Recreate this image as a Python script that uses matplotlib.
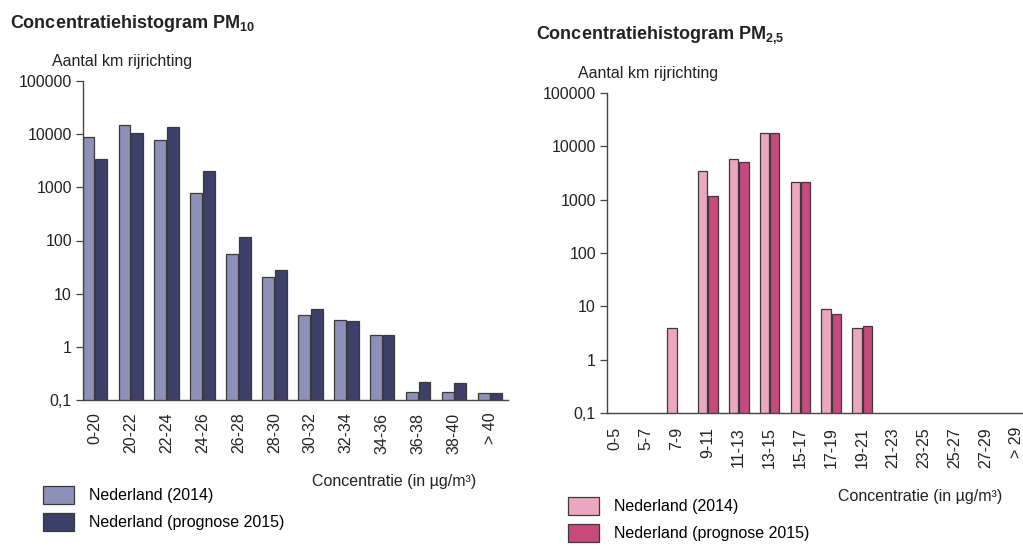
import matplotlib
matplotlib.use("Agg")
import matplotlib.pyplot as plt
import numpy as np
from matplotlib.ticker import NullLocator

plt.rcParams["font.family"] = ["Liberation Sans", "DejaVu Sans"]
plt.rcParams["mathtext.fontset"] = "custom"
plt.rcParams["mathtext.bf"] = "Liberation Sans:bold"
plt.rcParams["mathtext.rm"] = "Liberation Sans"

NAN = np.nan

pm10_cats = ["0-20", "20-22", "22-24", "24-26", "26-28", "28-30", "30-32",
             "32-34", "34-36", "36-38", "38-40", "> 40"]
pm10_2014 = [8800, 14700, 7700, 770, 55, 21, 4.0, 3.2, 1.7, 0.14, 0.14, 0.135]
pm10_2015 = [3400, 10500, 13500, 2000, 114, 28, 5.2, 3.1, 1.7, 0.22, 0.21, 0.135]

pm25_cats = ["0-5", "5-7", "7-9", "9-11", "11-13", "13-15", "15-17", "17-19",
             "19-21", "21-23", "23-25", "25-27", "27-29", "> 29"]
pm25_2014 = [NAN, NAN, 4.0, 3400, 5700, 18000, 2150, 8.8, 4.0,
             NAN, NAN, NAN, NAN, NAN]
pm25_2015 = [NAN, NAN, NAN, 1190, 5000, 18000, 2100, 7.3, 4.3,
             NAN, NAN, NAN, NAN, NAN]

y_ticks = [0.1, 1, 10, 100, 1000, 10000, 100000]
y_labels = ["0,1", "1", "10", "100", "1000", "10000", "100000"]
series_labels = ["Nederland (2014)", "Nederland (prognose 2015)"]

PM10_LIGHT = "#8d90b9"
PM10_DARK = "#3c4068"
PM25_LIGHT = "#eba7c0"
PM25_DARK = "#c84a7d"
EDGE = "#3a3a3a"
TXT = "#222222"
FS = 11.5


def draw(ax, cats, a, b, c1, c2, width, off, xlim, pad):
    x = np.arange(len(cats))
    b1 = ax.bar(x - off, a, width, color=c1, edgecolor=EDGE, linewidth=0.9)
    b2 = ax.bar(x + off, b, width, color=c2, edgecolor=EDGE, linewidth=0.9)
    ax.set_yscale("log")
    ax.set_ylim(0.1, 100000)
    ax.set_xlim(*xlim)
    ax.yaxis.set_minor_locator(NullLocator())
    ax.set_yticks(y_ticks)
    ax.set_yticklabels(y_labels, fontsize=FS, color=TXT)
    ax.set_xticks(x)
    ax.set_xticklabels(cats, rotation=90, fontsize=FS, va="top", color=TXT)
    ax.tick_params(axis="x", length=0, pad=pad)
    ax.tick_params(axis="y", length=5, width=0.9, pad=3, color="#444444")
    ax.spines["right"].set_visible(False)
    ax.spines["top"].set_visible(False)
    ax.spines["left"].set_color("#444444")
    ax.spines["bottom"].set_color("#444444")
    ax.spines["left"].set_linewidth(1.0)
    ax.spines["bottom"].set_linewidth(1.0)
    return b1, b2


fig = plt.figure(figsize=(10.23, 5.5), dpi=100)
W, H = 1023, 550

ax1 = fig.add_axes([83 / W, 1 - 400 / H, (508 - 83) / W, (400 - 81) / H])
h1 = draw(ax1, pm10_cats, pm10_2014, pm10_2015, PM10_LIGHT, PM10_DARK,
          0.33, 0.175, (-0.33, 11.5), 9)

ax2 = fig.add_axes([607 / W, 1 - 413 / H, 1 - 607 / W, (413 - 93) / H])
h2 = draw(ax2, pm25_cats, pm25_2014, pm25_2015, PM25_LIGHT, PM25_DARK,
          0.31, 0.165, (-0.26, 13.2), 10)

fig.text(10 / W, 1 - 28 / H, r"Concentratiehistogram PM$_{\mathbf{10}}$",
         fontsize=13, fontweight="bold", color=TXT, va="baseline")
fig.text(536 / W, 1 - 39 / H, r"Concentratiehistogram PM$_{\mathbf{2{,}5}}$",
         fontsize=13, fontweight="bold", color=TXT, va="baseline")

fig.text(52 / W, 1 - 66 / H, "Aantal km rijrichting", fontsize=FS,
         va="baseline", color=TXT)
fig.text(578 / W, 1 - 78 / H, "Aantal km rijrichting", fontsize=FS,
         va="baseline", color=TXT)

fig.text(394 / W, 1 - 486 / H, "Concentratie (in µg/m³)", fontsize=FS,
         ha="center", va="baseline", color=TXT)
fig.text(920 / W, 1 - 501 / H, "Concentratie (in µg/m³)", fontsize=FS,
         ha="center", va="baseline", color=TXT)

for handles, xa, ya in [(h1, 43, 486), (h2, 568, 497)]:
    fig.legend(handles, series_labels, loc="upper left",
               bbox_to_anchor=(xa / W, 1 - ya / H), frameon=False,
               fontsize=FS, handlelength=1.95, handleheight=1.35,
               handletextpad=0.95, labelspacing=0.55, borderpad=0,
               borderaxespad=0)

fig.savefig("out.png", dpi=100, facecolor="white")
